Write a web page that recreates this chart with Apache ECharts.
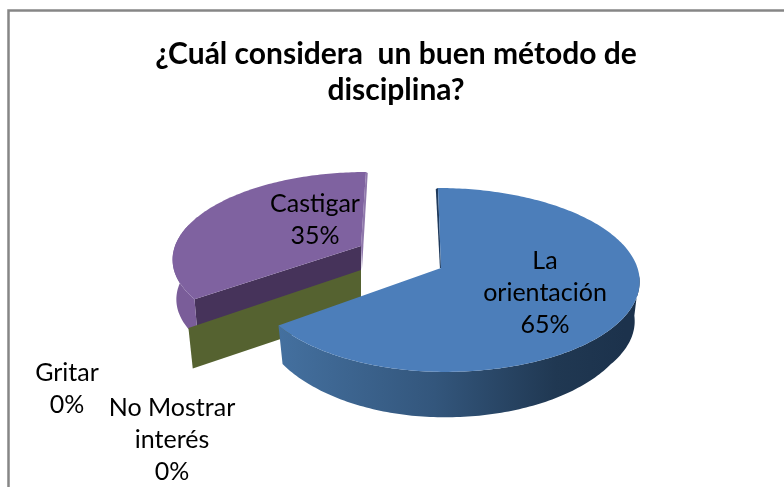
<!DOCTYPE html>
<html>
<head>
<meta charset="utf-8">
<style>html,body{margin:0;padding:0;background:#fff}#c{width:784px;height:487px}</style>
<script src="https://cdn.jsdelivr.net/npm/echarts@6/dist/echarts.min.js"></script>
</head>
<body>
<div id="c"></div>
<script>
const titleText = '¿Cuál considera  un buen método de\ndisciplina?';
const categories = ['La\norientación', 'Gritar', 'No Mostrar\ninterés', 'Castigar'];
const shares = [65, 0, 0, 35];

// Drawing layout of the tilted pie, per category (not data).
const FONT = 'Lato, Carlito, "Open Sans", sans-serif';
const PERSP = 0.13;
const looks = [
  { apex:[441,268], rxL:188, rxR:196.5, ry:90.4, shear:-3.4, wallH:40, frontGain:8, baseScale:0.975,
    top:'#4c7eba', edge:'#1f3a5c', edgeDx:-2.2,
    wall:{type:'linear',x:279,y:0,x2:625,y2:0,global:true,colorStops:[
      {offset:0,color:'#44709f'},{offset:0.45,color:'#33567c'},{offset:0.8,color:'#203852'},{offset:1,color:'#1c324c'}]},
    label:[545,293] },
  { label:[67,389] },
  { apex:[361,270], rxL:197, rxR:197, ry:91, shear:0, wallH:42, frontGain:0, baseScale:0.975, fold:'#556230', label:[172,440] },
  { apex:[361,246], rxL:186, rxR:186, ry:83.6, shear:5.6, wallH:40, frontGain:0, baseScale:0.98,
    top:'#7f62a0', edge:'#8f78ab', edgeDx:1.8, wall:'#7a5d99', fold:'#46335a', label:[315,220] }
];

function rim(look, deg, lower) {
  const t = deg * Math.PI / 180, X = Math.sin(t), Y = Math.cos(t);
  const s = 1 / (1 + PERSP * Y);
  const rx = X < 0 ? look.rxL : look.rxR;
  let dx = rx * X * s + look.shear * Y * s;
  let dy = -look.ry * Y * s;
  if (lower) {
    dx *= look.baseScale;
    dy = dy * look.baseScale + look.wallH + look.frontGain * Math.max(0, (-Y - 0.588) / 0.412);
  }
  return [look.apex[0] + dx, look.apex[1] + dy];
}
function arc(look, a, b, lower) {
  const pts = [], n = Math.max(1, Math.ceil(Math.abs(b - a)));
  for (let i = 0; i <= n; i++) pts.push(rim(look, a + (b - a) * i / n, lower));
  return pts;
}

const total = shares.reduce((a, b) => a + b, 0);
const startAngles = [];
shares.reduce((acc, v, i) => { startAngles[i] = acc; return acc + v / total * 360; }, 0);

function renderSlice(params, api) {
  const i = api.value(1), value = api.value(0), look = looks[i];
  const a = startAngles[i], b = a + value / total * 360;
  const kids = [];
  const poly = (points, fill) => kids.push({ type:'polygon', shape:{points}, style:{fill} });
  if (look.apex) {
    const lift = [look.apex[0], look.apex[1] + look.wallH];
    if (look.fold) {
      poly([look.apex, rim(look, a, false), rim(look, a, true), lift], look.fold);
    }
    if (look.wall) {
      if (i === 0) {
        poly(arc(look, 95, b, false).concat(arc(look, 95, b, true).reverse()), look.wall);
      } else {
        poly(arc(look, a, 285, false).concat(arc(look, a, 285, true).reverse()), look.wall);
      }
    }
    if (look.edge) {
      const r = rim(look, i === 0 ? a : b, false);
      const foot = i === 0 ? look.apex : [look.apex[0], look.apex[1] + 24];
      poly([r, [r[0] + look.edgeDx, r[1] + 1], [foot[0] + look.edgeDx / 2, foot[1]], look.apex], look.edge);
    }
    if (look.top) poly([look.apex].concat(arc(look, a, b, false)), look.top);
  }
  kids.push({
    type:'text', z2:50,
    style:{ x:look.label[0], y:look.label[1], text:categories[i] + '\n' + value + '%',
      align:'center', verticalAlign:'middle', fill:'#000', font:'25px ' + FONT, lineHeight:32 }
  });
  return { type:'group', children:kids };
}

const drawOrder = categories.map((_, i) => i).reverse();
const chart = echarts.init(document.getElementById('c'), null, { renderer:'canvas' });
chart.setOption({
  animation:false,
  backgroundColor:'#fff',
  title:{ text:titleText, left:391, top:31, textAlign:'center',
    textStyle:{ fontFamily:FONT, fontSize:30, fontWeight:'bold', color:'#000', lineHeight:36 } },
  graphic:[{ type:'rect', left:6, top:8, shape:{ width:800, height:500 }, style:{ fill:'none', stroke:'#868686', lineWidth:2.5 }, silent:true, z:-1 }],
  series:[{ type:'custom', coordinateSystem:'none', renderItem:renderSlice,
    data:drawOrder.map(i => [shares[i], i]) }]
});
</script>
</body>
</html>
